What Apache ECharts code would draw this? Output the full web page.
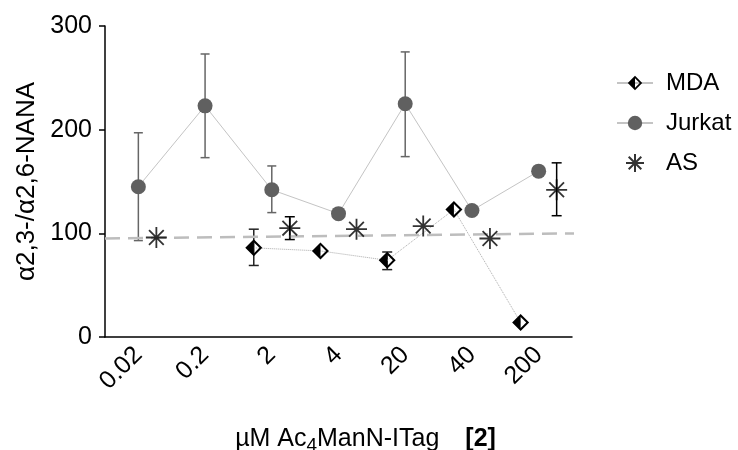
<!DOCTYPE html>
<html>
<head>
<meta charset="utf-8">
<script src="https://cdn.jsdelivr.net/npm/echarts@6/dist/echarts.min.js"></script>
<style>
  html, body { margin: 0; padding: 0; background: #fff; }
  #chart { width: 738px; height: 450px; }
</style>
</head>
<body>
<div id="chart"></div>
<script>
// Concentrations of Ac4ManN-ITag (µM)
const concentrations = ['0.02', '0.2', '2', '4', '20', '40', '200'];

// α2,3-/α2,6-NANA ratio per cell line (null = not measured)
const mdaValues    = [null, null, 86, 83, 74, 123, 14];
const mdaLow       = [null, null, 69, null, 65, null, null];
const mdaHigh      = [null, null, 104, null, 82, null, null];

const jurkatValues = [145, 223, 142, 119, 225, 122, 160];
const jurkatLow    = [93, 173, 120, null, 174, null, null];
const jurkatHigh   = [197, 273, 165, null, 275, null, null];

const asValues     = [96, null, 105, 104, 107, 95, 142];
const asLow        = [null, null, 94, null, null, null, 117];
const asHigh       = [null, null, 116, null, null, null, 168];

// Reference level (dashed) at the left and right ends of the plot
const referenceLevel = [95, 100];

const yTicks = [0, 100, 200, 300];

const FONT = '"Liberation Sans", Arial, Helvetica, sans-serif';

// Side-by-side placement of the three cell lines within each category
const shift = { MDA: -0.27, Jurkat: 0, AS: 0.27 };

// Diamond: left half solid, right half outlined (hole wound the other way)
const halfDiamond = 'path://M50 0 L100 50 L50 100 L0 50 Z M50 17 L50 83 L83 50 Z';
// Eight-ray asterisk
const asterisk = 'path://M50 0 L50 100 M0 50 L100 50 M15 15 L85 85 M85 15 L15 85';

function points(values, dx) {
  const out = [];
  values.forEach((v, i) => { if (v != null) out.push([i + dx, v]); });
  return out;
}

function errorBars(low, high, dx, color, capWidth) {
  const data = [];
  low.forEach((lo, i) => { if (lo != null) data.push([i + dx, lo, high[i]]); });
  return {
    type: 'custom',
    xAxisIndex: 1,
    z: 1,
    silent: true,
    data: data,
    renderItem: function (params, api) {
      const x = api.value(0);
      const lo = api.coord([x, api.value(1)]);
      const hi = api.coord([x, api.value(2)]);
      const w = capWidth / 2;
      const style = { stroke: color, lineWidth: 1.5 };
      return {
        type: 'group',
        children: [
          { type: 'line', shape: { x1: lo[0], y1: lo[1], x2: hi[0], y2: hi[1] }, style: style },
          { type: 'line', shape: { x1: hi[0] - w, y1: hi[1], x2: hi[0] + w, y2: hi[1] }, style: style },
          { type: 'line', shape: { x1: lo[0] - w, y1: lo[1], x2: lo[0] + w, y2: lo[1] }, style: style }
        ]
      };
    }
  };
}

const chart = echarts.init(document.getElementById('chart'), null, { renderer: 'canvas' });

chart.setOption({
  animation: false,
  backgroundColor: '#fff',
  textStyle: { fontFamily: FONT, color: '#000' },
  grid: { left: 105, right: 166, top: 26, bottom: 113, outerBoundsMode: 'none', containLabel: false },
  legend: {
    orient: 'vertical',
    left: 611,
    top: 66,
    itemWidth: 36,
    itemHeight: 18,
    itemGap: 16,
    data: [
      { name: 'MDA', lineStyle: { type: 'solid', color: '#c4c4c4' } },
      { name: 'Jurkat' },
      { name: 'AS' }
    ],
    textStyle: { fontFamily: FONT, fontSize: 24, color: '#000', padding: [0, 0, 0, 8] }
  },
  xAxis: [
    {
      type: 'category',
      data: concentrations,
      boundaryGap: true,
      axisLine: { lineStyle: { color: '#000', width: 1.5 } },
      axisTick: { alignWithLabel: true, length: 8, lineStyle: { color: '#000', width: 1.5 } },
      axisLabel: { rotate: 45, margin: 14, fontSize: 25, color: '#000', fontFamily: FONT },
      name: '{t|µM Ac}{s|4}{t|ManN-ITag}{g|}{b|[2]}',
      nameLocation: 'middle',
      nameGap: 88,
      nameTextStyle: {
        padding: [0, 0, 0, 54],
        rich: {
          t: { fontSize: 25, fontFamily: FONT, color: '#000', lineHeight: 28 },
          s: { fontSize: 19, fontFamily: FONT, color: '#000', lineHeight: 12, padding: [14, 0, 0, 0] },
          g: { width: 26 },
          b: { fontSize: 25, fontFamily: FONT, fontWeight: 'bold', color: '#000', lineHeight: 28 }
        }
      }
    },
    {
      type: 'value',
      min: -0.5,
      max: 6.5,
      show: false
    }
  ],
  yAxis: {
    type: 'value',
    min: yTicks[0],
    max: yTicks[yTicks.length - 1],
    interval: 100,
    splitLine: { show: false },
    axisLine: { show: true, onZero: false, lineStyle: { color: '#000', width: 1.5 } },
    axisTick: { show: true, length: 6, lineStyle: { color: '#000', width: 1.5 } },
    axisLabel: { fontSize: 25, margin: 13, color: '#000', fontFamily: FONT },
    name: 'α2,3-/α2,6-NANA',
    nameLocation: 'middle',
    nameGap: 62,
    nameTextStyle: { fontSize: 26, fontFamily: FONT, color: '#000' }
  },
  series: [
    // dashed reference level across the plot
    {
      type: 'line',
      xAxisIndex: 1,
      z: 2,
      clip: false,
      silent: true,
      symbol: 'none',
      data: [[-0.5, referenceLevel[0]], [6.6, referenceLevel[1]]],
      lineStyle: { color: '#bdbdbd', width: 2.5, type: [15, 8] }
    },
    errorBars(jurkatLow, jurkatHigh, shift.Jurkat, '#666', 9),
    errorBars(mdaLow, mdaHigh, shift.MDA, '#222', 10),
    errorBars(asLow, asHigh, shift.AS, '#000', 10),
    {
      name: 'MDA',
      type: 'line',
      xAxisIndex: 1,
      z: 3,
      data: points(mdaValues, shift.MDA),
      symbol: halfDiamond,
      symbolSize: 17,
      itemStyle: { color: '#000' },
      lineStyle: { color: '#aaa', width: 1, type: 'dotted' }
    },
    {
      name: 'Jurkat',
      type: 'line',
      xAxisIndex: 1,
      z: 3,
      data: points(jurkatValues, shift.Jurkat),
      symbol: 'circle',
      symbolSize: 15,
      itemStyle: { color: '#606060' },
      lineStyle: { color: '#c4c4c4', width: 1 }
    },
    {
      name: 'AS',
      type: 'scatter',
      xAxisIndex: 1,
      z: 4,
      data: points(asValues, shift.AS),
      symbol: asterisk,
      symbolSize: 21,
      itemStyle: { color: '#000', borderColor: '#000', borderWidth: 1.8 }
    }
  ]
});
</script>
</body>
</html>
